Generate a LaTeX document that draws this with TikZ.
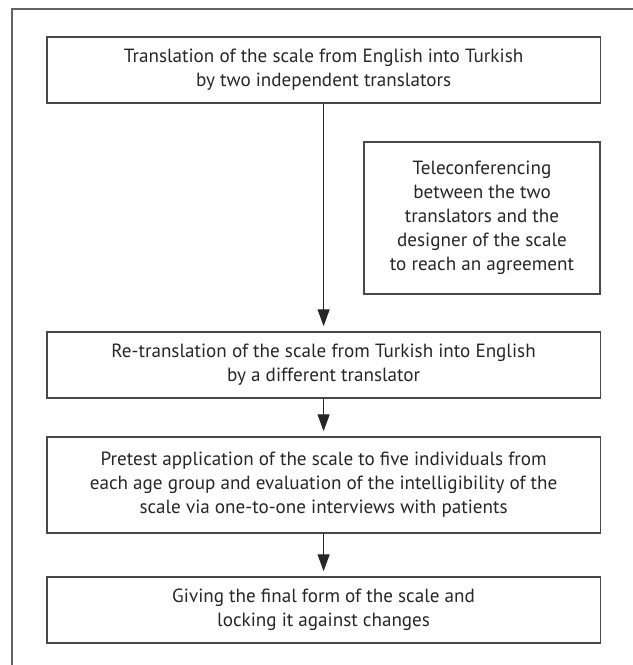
\documentclass[tikz,border=0pt]{standalone}
\usepackage{fontspec}
\setmainfont{PT Sans}
\usetikzlibrary{arrows.meta,positioning}
\definecolor{trline}{RGB}{72,72,72}
\definecolor{trtext}{RGB}{38,38,38}
\tikzset{
  trbox/.style={draw=trline, line width=.9pt, align=center, text=trtext, minimum width=13.83cm, minimum height=1.65cm, inner sep=0pt},
  trside/.style={draw=trline, line width=.9pt, align=center, text=trtext, minimum width=5.9cm, minimum height=3.8cm, inner sep=0pt},
  trarr/.style={-{Triangle[length=4.2mm,width=3mm]}, line width=.7pt, draw=black!85, fill=black!85, shorten >=1.3mm},
  trframe/.style={draw=trline!85, line width=1pt}
}

\begin{document}
\begin{tikzpicture}[font=\fontsize{13.6}{17.07}\selectfont, x=1cm, y=1cm]
  \useasboundingbox (0,0) rectangle (15.825,-16.625);
  % open frame round the chart
  \coordinate (fbl) at (0.3,-16.625);
  \coordinate (ftl) at (0.3,-0.225);
  \coordinate (ftr) at (15.825,-0.225);
  \draw[trframe] (fbl) -- (ftl) -- (ftr);

  \node[trbox] (trans) at (8.09,-1.75) {Translation of the scale from English into Turkish\\by two independent translators};
  \node[trside] (tele) at (12.05,-5.45) {Teleconferencing\\between the two\\translators and the\\designer of the scale\\to reach an agreement};
  \node[trbox] (retrans) at (8.09,-9.125) {Re-translation of the scale from Turkish into English\\by a different translator};
  \node[trbox, minimum height=2.4cm] (pretest) at (8.09,-12.125) {Pretest application of the scale to five individuals from\\each age group and evaluation of the intelligibility of the\\scale via one-to-one interviews with patients};
  \node[trbox] (final) at (8.09,-15.25) {Giving the final form of the scale and\\locking it against changes};

  \draw[trarr] (trans) -- (retrans);
  \draw[trarr] (retrans) -- (pretest);
  \draw[trarr] (pretest) -- (final);
\end{tikzpicture}
\end{document}
